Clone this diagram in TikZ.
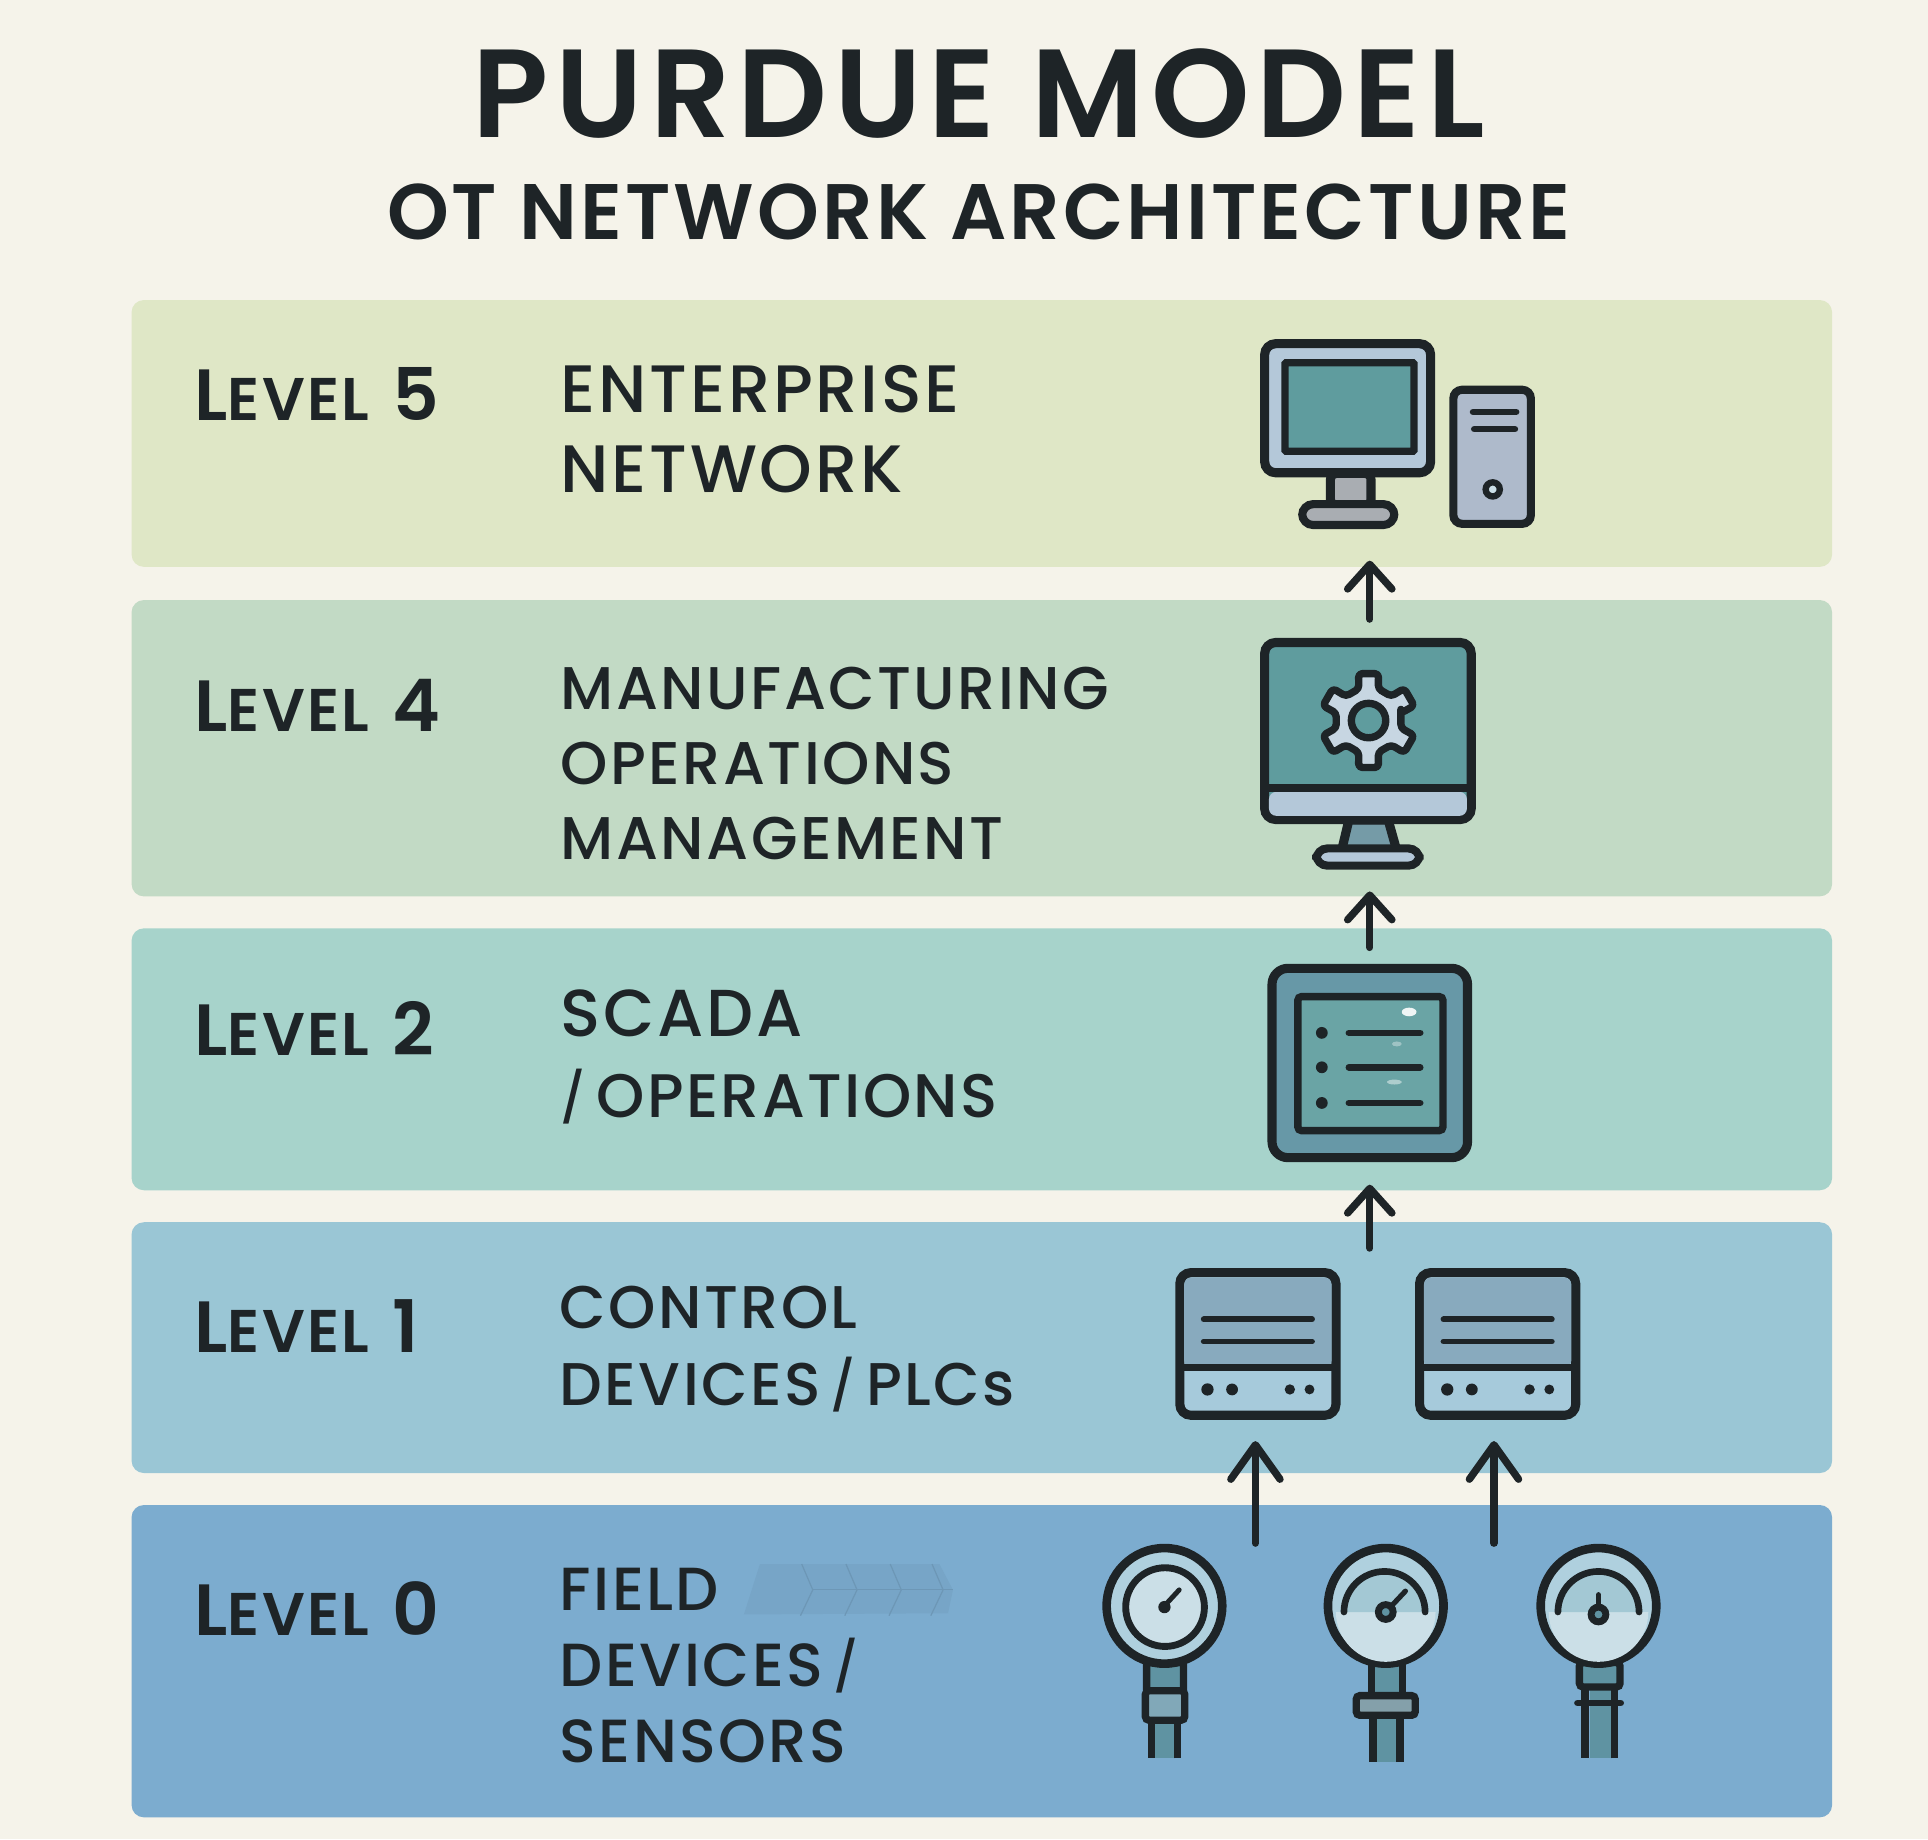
\documentclass[tikz,border=0pt]{standalone}
\usepackage{fontspec}
\setmainfont{Poppins}
\newfontfamily\titlefont[LetterSpace=5.5]{Poppins SemiBold}
\newfontfamily\subfont[LetterSpace=4]{Poppins SemiBold}
\newfontfamily\descfont[LetterSpace=4]{Poppins Medium}
\usetikzlibrary{arrows.meta,positioning}
\definecolor{paper}{HTML}{F5F3EA}
\definecolor{ink}{HTML}{1E2427}
\definecolor{bandfive}{HTML}{DFE7C6}
\definecolor{bandfour}{HTML}{C2DAC5}
\definecolor{bandtwo}{HTML}{A7D3CB}
\definecolor{bandone}{HTML}{9AC6D5}
\definecolor{bandzero}{HTML}{7CACCF}
\definecolor{screen}{HTML}{5F9C9E}
\definecolor{frame}{HTML}{B4C8D9}
\definecolor{metal}{HTML}{A9ADB2}
\definecolor{tower}{HTML}{AEBACB}
\definecolor{dial}{HTML}{AFD0DE}
\definecolor{dialpale}{HTML}{CBDFE7}
\definecolor{pipe}{HTML}{5F93A2}
\definecolor{plctop}{HTML}{88AABE}
\definecolor{plcfoot}{HTML}{A6CADB}
\newcommand{\lvltext}[1]{\fontsize{59}{59}\selectfont L\fontsize{49}{49}\selectfont EVEL\hspace{5pt} \fontsize{59}{59}\selectfont #1}
\newcommand{\slimslash}{\raisebox{2pt}{\fontsize{40}{40}\selectfont/}}

\begin{document}
\begin{tikzpicture}[x=1pt,y=-1pt,
 band/.style={rounded corners=10,minimum width=1383,inner sep=0,outer sep=0},
 lvllabel/.style={anchor=base west,inner sep=0,text=ink,font=\subfont},
 desctext/.style 2 args={anchor=north west,inner sep=0,align=left,text=ink,font=\descfont\fontsize{#1}{#2}\selectfont},
 iconbox/.style={draw=ink,line width=7.4,rounded corners=9,inner sep=0,outer sep=0},
 innerbox/.style={draw=ink,line width=6,rounded corners=3,inner sep=0,outer sep=0},
 dashline/.style={draw=ink,line width=5.4,line cap=round},
 flowarrow/.style={draw=ink,line width=6,line cap=round,-{Straight Barb[length=20,width=36,round]}},
 longarrow/.style={draw=ink,line width=6,line cap=round,-{Straight Barb[length=28,width=40,round]}},
 gaugeface/.style={circle,draw=ink,line width=7,fill=dial,inner sep=0,outer sep=0,minimum size=94},
 stemline/.style={draw=ink,line width=6}]

 \fill[paper] (0,0) rectangle (1568,1496);
 \useasboundingbox (0,0) rectangle (1568,1496);

 \node[anchor=base,inner sep=0,text=ink,font=\titlefont\fontsize{102}{102}\selectfont] (title) at (796,112) {PURDUE MODEL};
 \node[anchor=base,inner sep=0,text=ink,font=\subfont\fontsize{64}{64}\selectfont] (subtitle) at (796,195) {OT NETWORK ARCHITECTURE};

 \node[band,fill=bandfive,minimum height=217] (bandf) at (798.5,352.5) {};
 \node[band,fill=bandfour,minimum height=241] (bandm) at (798.5,608.5) {};
 \node[band,fill=bandtwo,minimum height=213] (bands) at (798.5,861.5) {};
 \node[band,fill=bandone,minimum height=204] (bandc) at (798.5,1096) {};
 \node[band,fill=bandzero,minimum height=254] (bandd) at (798.5,1351) {};

 \node[lvllabel] (levelf) at (158,342) {\lvltext{5}};
 \node[lvllabel] (levelm) at (158,595) {\lvltext{4}};
 \node[lvllabel] (levels) at (158,858) {\lvltext{2}};
 \node[lvllabel] (levelc) at (158,1100) {\lvltext{1}};
 \node[lvllabel] (leveld) at (158,1330) {\lvltext{0}};

 \node[desctext={54.5}{65}] (descf) at (456,297) {ENTERPRISE\\NETWORK};
 \node[desctext={49}{61}] (descm) at (456,542) {MANUFACTURING\\OPERATIONS\\MANAGEMENT};
 \node[desctext={54}{66}] (descs) at (456,805) {SCADA\\\fontsize{50}{66}\selectfont\slimslash\,OPERATIONS};
 \node[desctext={49}{62.5}] (descc) at (455,1046) {CONTROL\\DEVICES\,\slimslash\,PLCs};
 \node[desctext={49.5}{62}] (descd) at (455,1275) {FIELD\\DEVICES\,\slimslash\\SENSORS};

 % faint chevrons beside the field label
 \fill[bandzero!96!black] (605,1313) -- (618,1272) -- (764,1272) -- (775,1293) -- (771,1312) -- cycle;
 \foreach \cx in {656,692,728,762} {
  \draw[bandzero!88!black,line width=1] (\cx-4,1272) -- (\cx+5,1293) -- (\cx-5,1314);
 }
 \draw[bandzero!88!black,line width=1] (661,1293) -- (775,1293);

 % level 5
 \node[iconbox,fill=metal,rounded corners=5,minimum width=33,minimum height=26] (pcneck) at (1098.5,398) {};
 \node[iconbox,fill=metal,line width=6.6,minimum width=75,minimum height=17] (pcbase) at (1096.5,418.5) {};
 \node[iconbox,fill=frame,minimum width=135,minimum height=105] (pc) at (1096,332) {};
 \node[innerbox,fill=screen,rounded corners=1,minimum width=105,minimum height=72] (pcscreen) at (1097.5,331) {};
 \node[iconbox,fill=tower,line width=6.6,rounded corners=7,minimum width=63,minimum height=109] (box) at (1213.5,371.5) {};
 \draw[dashline] (1198,335) -- (1233,335);
 \draw[dashline] (1199,349) -- (1232,349);
 \node[circle,draw=ink,line width=5.2,fill=dialpale,inner sep=0,minimum size=11.5] (boxled) at (1214,398) {};

 % level 4
 \draw[iconbox,fill=pipe!70!metal,rounded corners=1] (1097,667) -- (1129,667) -- (1136,692) -- (1091,692) -- cycle;
 \node[iconbox,fill=frame,line width=6.6,minimum width=84,minimum height=14] (hmibase) at (1112.5,697) {};
 \node[iconbox,fill=screen,minimum width=168,minimum height=144] (hmi) at (1112.5,594.5) {};
 \fill[frame,rounded corners=6] (1032,644) rectangle (1193,663.5);
 \draw[draw=ink,line width=6] (hmi.west |- 0,641) -- (hmi.east |- 0,641);
 \draw[shift={(1113,586)},draw=ink,line width=6,fill=frame!75!white,rounded corners=3,line join=round]
  (347:27) \foreach \a in {30,90,...,330} { -- (\a-17:27) -- (\a-12:39) -- (\a+12:39) -- (\a+17:27) } -- cycle;
 \node[circle,draw=ink,line width=6,fill=screen,inner sep=0,minimum size=28] (gear) at (1113,586) {};

 % level 2
 \node[iconbox,fill=pipe!90!frame,rounded corners=13,minimum width=159,minimum height=154] (scada) at (1114,864.5) {};
 \node[innerbox,fill=screen!85!bandtwo,minimum width=118,minimum height=109] (panel) at (1114.5,865) {};
 \foreach \ly in {840,868,897} {
  \fill[ink] (1075,\ly) circle[radius=4.8];
  \draw[dashline] (1097,\ly) -- (1155,\ly);
 }
 \fill[white!90!screen] (1146,823) ellipse[x radius=6,y radius=3.5];
 \fill[white,opacity=.35] (1136,849) ellipse[x radius=4,y radius=2];
 \fill[white,opacity=.45] (1134,880) ellipse[x radius=6,y radius=2];

 % level 1
 \foreach \plcname/\px in {plca/1023,plcb/1218} {
  \node[iconbox,fill=plcfoot,minimum width=127,minimum height=116] (\plcname) at (\px,1093) {};
  \fill[plctop,rounded corners=6] (\px-60,1039) rectangle (\px+60,1112);
  \draw[draw=ink,line width=6] (\plcname.west |- 0,1112) -- (\plcname.east |- 0,1112);
  \draw[dashline,line width=4.8] (\px-44,1073) -- (\px+44,1073);
  \draw[dashline,line width=4.8] (\px-44,1091) -- (\px+44,1091);
  \fill[ink] (\px-41,1130) circle[radius=5];
  \fill[ink] (\px-21,1130) circle[radius=4.8];
  \fill[ink] (\px+26,1130) circle[radius=4.2];
  \fill[ink] (\px+42,1130) circle[radius=4];
 }

 % level 0
 \fill[pipe] (938,1399) rectangle (956,1430);
 \draw[stemline] (936.5,1399) -- (936.5,1430) (957.5,1430) -- (957.5,1399);
 \node[iconbox,fill=pipe,line width=6,rounded corners=2,minimum width=30,minimum height=24] (necka) at (947.5,1364) {};
 \node[iconbox,fill=pipe!60!frame,line width=6,rounded corners=3,minimum width=32,minimum height=24] (collara) at (947.5,1387) {};
 \node[gaugeface] (gaugea) at (947,1306) {};
 \node[circle,draw=ink,line width=5.6,fill=dialpale,inner sep=0,minimum size=64] (dialring) at (947.5,1307) {};
 \draw[draw=ink,line width=4,line cap=round] (gaugea.center) -- (959,1293);
 \fill[ink] (947,1307) circle[radius=5];

 \fill[pipe] (1117,1397) rectangle (1137,1433);
 \draw[stemline] (1116.5,1397) -- (1116.5,1433) (1138.5,1433) -- (1138.5,1397);
 \fill[pipe] (1116,1350) rectangle (1140,1378);
 \draw[stemline] (1115.5,1350) -- (1115.5,1378) (1140.5,1378) -- (1140.5,1350);
 \node[iconbox,fill=pipe!50!metal,line width=6,rounded corners=3,minimum width=48,minimum height=16] (collarb) at (1127,1387) {};
 \node[gaugeface] (gaugeb) at (1127,1306) {};
 \fill[dialpale] (1086.5,1311) arc[start angle=180,end angle=0,radius=40.5] -- cycle;
 \fill[dial!85!screen] (1093,1311) arc[start angle=180,end angle=360,radius=33] -- cycle;
 \draw[draw=ink,line width=5.4,line cap=round] (1093,1311) arc[start angle=180,end angle=360,radius=33];
 \draw[draw=ink,line width=4.2,line cap=round] (1127,1311) -- (1143,1294);
 \node[circle,draw=ink,line width=5.6,fill=pipe,inner sep=0,minimum size=12] (pivotb) at (1127,1311) {};

 \fill[pipe] (1293,1372) rectangle (1310,1430);
 \draw[stemline] (1289,1372) -- (1289,1430) (1313,1430) -- (1313,1372);
 \draw[draw=ink,line width=5.6,line cap=round] (1283,1385) -- (1318,1385);
 \node[iconbox,fill=pipe,line width=6,rounded corners=3,minimum width=33,minimum height=20] (neckc) at (1301,1362) {};
 \node[gaugeface] (gaugec) at (1300,1306) {};
 \fill[dialpale] (1259.5,1311) arc[start angle=180,end angle=0,radius=40.5] -- cycle;
 \fill[dial!85!screen] (1267,1311) arc[start angle=180,end angle=360,radius=33] -- cycle;
 \draw[draw=ink,line width=5.4,line cap=round] (1267,1311) arc[start angle=180,end angle=360,radius=33];
 \draw[draw=ink,line width=4.4,line cap=round] (1300,1314) -- (1300,1297);
 \node[circle,draw=ink,line width=5.6,fill=pipe,inner sep=0,minimum size=12] (pivotc) at (1300,1313) {};

 % arrows
 \draw[flowarrow,shorten <=19,shorten >=29] ([xshift=1.5pt]hmi.north) -- ([xshift=1.5pt]hmi.north |- pcbase.south);
 \draw[flowarrow,shorten <=17,shorten >=21] (scada.north) -- (scada.north |- hmibase.south);
 \draw[flowarrow,shorten <=20,shorten >=22] (scada.south |- plca.north) -- (scada.south);
 \draw[longarrow,shorten <=4,shorten >=21] ([xshift=-2pt]plca.south |- gaugea.north) -- ([xshift=-2pt]plca.south);
 \draw[longarrow,shorten <=4,shorten >=21] ([xshift=-3pt]plcb.south |- gaugeb.north) -- ([xshift=-3pt]plcb.south);
\end{tikzpicture}
\end{document}
